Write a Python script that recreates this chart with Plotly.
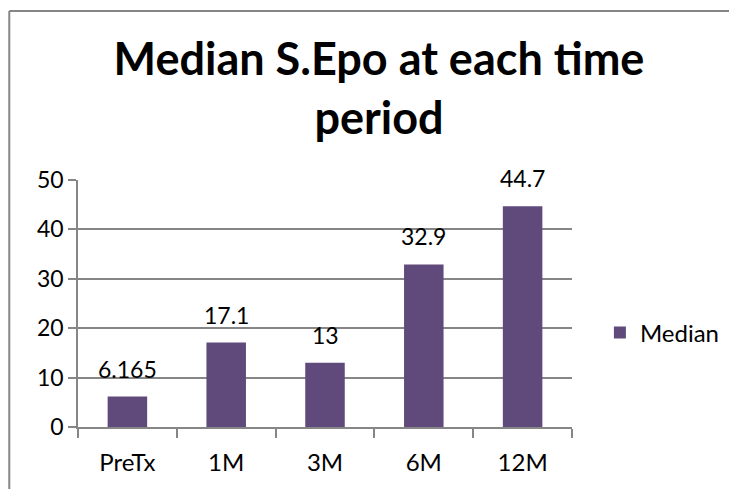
import plotly.graph_objects as go

categories = ["PreTx", "1M", "3M", "6M", "12M"]
median_values = [6.165, 17.1, 13, 32.9, 44.7]
value_labels = ["6.165", "17.1", "13", "32.9", "44.7"]
y_ticks = [0, 10, 20, 30, 40, 50]

OFF = 8  # page body margin
W, H = 737 - OFF, 489 - OFF
L, R, T, B = 78 - OFF, 574 - OFF, 180 - OFF, 427 - OFF
BAR = "#604A7B"
GRID = "#868686"
FONT = "Lato"
FS = 23

def px_x(x):
    return (x - L) / (R - L)

def px_y(y):
    return (B - y) / (B - T)

fig = go.Figure()
fig.add_trace(go.Bar(x=categories, y=median_values, name="Median",
                     marker=dict(color=BAR, line=dict(width=0)),
                     showlegend=True))

for c, v, t in zip(categories, median_values, value_labels):
    fig.add_annotation(x=c, y=v, text=t, showarrow=False, yanchor="bottom",
                       yshift=12, font=dict(family=FONT, size=FS, color="#000"))

fig.update_layout(
    width=W, height=H,
    margin=dict(l=L, r=W - R, t=T, b=H - B, pad=0),
    paper_bgcolor="white", plot_bgcolor="white",
    bargap=0.6,
    title=dict(text="<b>Median S.Epo at each time<br>period</b>",
               x=371 / W, xref="container", xanchor="center",
               y=1 - 67 / H, yref="container", yanchor="top",
               font=dict(family=FONT, size=45, color="#000")),
    font=dict(family=FONT, size=FS, color="#000"),
    legend=dict(x=px_x(594), y=px_y(325), xanchor="left", yanchor="middle",
                font=dict(family=FONT, size=FS + 1, color="#000"),
                itemsizing="constant", bgcolor="rgba(0,0,0,0)"),
    xaxis=dict(type="category", tickson="boundaries", ticks="outside",
               ticklen=9, tickcolor=GRID, tickwidth=1.5,
               showline=True, linecolor=GRID, linewidth=1.5,
               showgrid=False, ticklabelstandoff=13,
               tickfont=dict(family=FONT, size=FS + 1)),
    yaxis=dict(range=[0, 50], tickvals=y_ticks, ticks="outside", ticklen=8,
               tickcolor=GRID, tickwidth=1.5,
               showline=True, linecolor=GRID, linewidth=1.5,
               showgrid=True, gridcolor=GRID, gridwidth=1.5,
               zeroline=False, tickfont=dict(family=FONT, size=FS)),
)

# chart frame (left and top edge)
fig.add_shape(type="line", xref="paper", yref="paper",
              x0=px_x(1), x1=px_x(1), y0=px_y(3), y1=px_y(H),
              line=dict(color=GRID, width=2))
fig.add_shape(type="line", xref="paper", yref="paper",
              x0=px_x(1), x1=px_x(W), y0=px_y(3), y1=px_y(3),
              line=dict(color=GRID, width=2))

fig.write_html("out.html", config={"displayModeBar": False})
